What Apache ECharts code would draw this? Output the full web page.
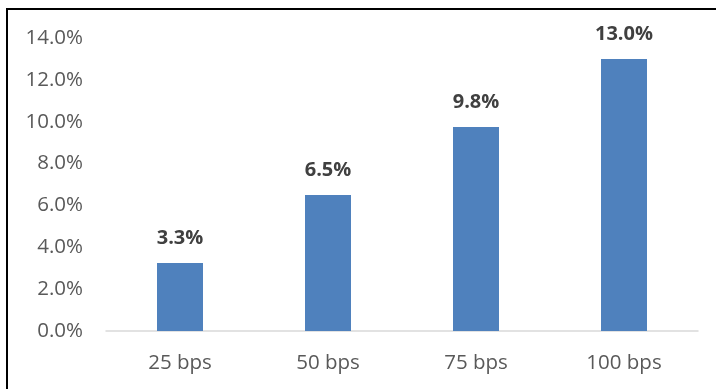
<!DOCTYPE html>
<html>
<head>
<meta charset="utf-8">
<script src="https://cdn.jsdelivr.net/npm/echarts@6/dist/echarts.min.js"></script>
<style>
  html, body { margin: 0; padding: 0; background: #fff; }
  #chart { width: 719px; height: 389px; }
</style>
</head>
<body>
<div id="chart"></div>
<script>
var categories = ['25 bps', '50 bps', '75 bps', '100 bps'];
var values = [3.25, 6.5, 9.75, 13.0];

var myChart = echarts.init(document.getElementById('chart'));

var font = '"Open Sans", "Liberation Sans", sans-serif';

var option = {
    animation: false,
    textStyle: { fontFamily: font },
    grid: { left: 106, right: 21, top: 38, bottom: 58 },
    // picture is cropped: only top and left border of the chart frame show
    graphic: [
        { type: 'line', shape: { x1: 6, y1: 9, x2: 716, y2: 9 }, style: { stroke: '#000', lineWidth: 2 } },
        { type: 'line', shape: { x1: 7, y1: 9, x2: 7, y2: 389 }, style: { stroke: '#000', lineWidth: 2 } }
    ],
    xAxis: {
        type: 'category',
        data: categories,
        axisTick: { show: false },
        axisLine: { lineStyle: { color: '#D9D9D9', width: 1.5 } },
        axisLabel: { color: '#595959', fontSize: 20.5, margin: 22, fontFamily: font }
    },
    yAxis: {
        type: 'value',
        min: 0,
        max: 14,
        interval: 2,
        splitLine: { show: false },
        axisLine: { show: false },
        axisTick: { show: false },
        axisLabel: {
            color: '#595959', fontSize: 20.5, margin: 23, fontFamily: font,
            formatter: function (v) { return v.toFixed(1) + '%'; }
        }
    },
    series: [{
        type: 'bar',
        data: values,
        barWidth: 46,
        itemStyle: { color: '#4F81BD' },
        label: {
            show: true,
            position: 'top',
            distance: 15,
            color: '#404040',
            fontSize: 20,
            fontWeight: 'bold',
            fontFamily: font,
            formatter: function (p) { return p.value.toFixed(1) + '%'; }
        }
    }]
};

myChart.setOption(option);
</script>
</body>
</html>
